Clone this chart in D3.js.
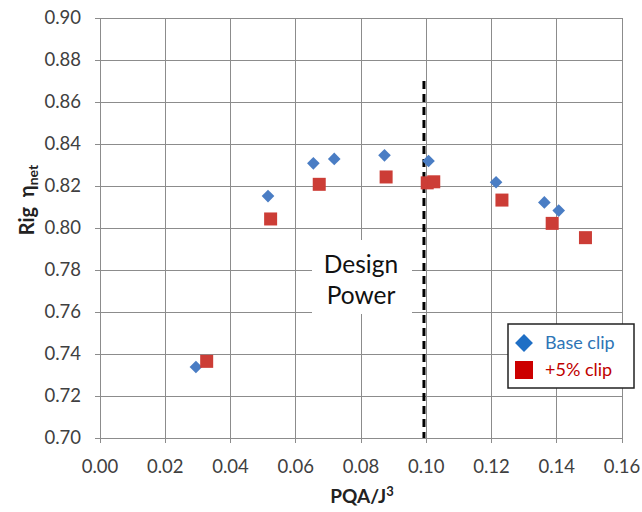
<!DOCTYPE html>
<html><head><meta charset="utf-8">
<script src="https://cdn.jsdelivr.net/npm/d3@7"></script>
<style>body{margin:0;background:#fff}svg{display:block}text{font-family:Lato,"Open Sans",sans-serif}</style>
</head><body><svg id="c" width="642" height="512"></svg>
<script>
const xTicks = [0,0.02,0.04,0.06,0.08,0.10,0.12,0.14,0.16];
const yTicks = [0.70,0.72,0.74,0.76,0.78,0.80,0.82,0.84,0.86,0.88,0.90];
const baseX = [0.0294,0.0515,0.0654,0.0718,0.0872,0.1007,0.1214,0.1362,0.1406];
const baseY = [0.7338,0.8152,0.8308,0.8329,0.8346,0.8319,0.8218,0.8122,0.8083];
const clipX = [0.0327,0.0523,0.0672,0.0877,0.1003,0.1023,0.1232,0.1386,0.1488];
const clipY = [0.7365,0.8043,0.8208,0.8243,0.8215,0.8220,0.8133,0.8022,0.7954];
const designX = 0.0993, designTop = 0.870;
const seriesNames = ["Base clip","+5% clip"];

const svg = d3.select("#c");
const x = d3.scaleLinear().domain([0,0.16]).range([100,622]);
const y = d3.scaleLinear().domain([0.70,0.90]).range([438,18]);

const grid = svg.append("g");
grid.selectAll("line.v").data(xTicks).join("line")
  .attr("x1",d=>x(d)).attr("x2",d=>x(d)).attr("y1",y(0.90)).attr("y2",y(0.70)+5)
  .attr("stroke","#8c8c8c").attr("stroke-width",1).attr("shape-rendering","crispEdges");
grid.selectAll("line.h").data(yTicks).join("line")
  .attr("x1",x(0)-5).attr("x2",x(0.16)).attr("y1",d=>y(d)).attr("y2",d=>y(d))
  .attr("stroke","#8c8c8c").attr("stroke-width",1).attr("shape-rendering","crispEdges");

svg.append("g").selectAll("text").data(yTicks).join("text")
  .attr("x",81).attr("y",d=>y(d)).attr("dy","0.35em").attr("text-anchor","end")
  .attr("font-size",18.5).attr("fill","#404040").text(d=>d.toFixed(2));
svg.append("g").selectAll("text").data(xTicks).join("text")
  .attr("x",d=>x(d)).attr("y",467).attr("dy","0.35em").attr("text-anchor","middle")
  .attr("font-size",18.5).attr("fill","#404040").text(d=>d.toFixed(2));

// Design power label with white background
svg.append("rect").attr("x",312).attr("y",240).attr("width",100).attr("height",74).attr("fill","#fff");
svg.append("text").attr("x",361).attr("y",273).attr("text-anchor","middle").attr("font-size",24.5).attr("fill","#111").text("Design");
svg.append("text").attr("x",361).attr("y",304).attr("text-anchor","middle").attr("font-size",24.5).attr("fill","#111").text("Power");

svg.append("line").attr("x1",x(designX)).attr("x2",x(designX)).attr("y1",y(designTop)).attr("y2",y(0.70))
  .attr("stroke","#000").attr("stroke-width",3).attr("stroke-dasharray","8,5");

const diamond = d3.symbol().type(d3.symbolSquare).size(80);
svg.append("g").selectAll("path").data(baseX.map((v,i)=>[v,baseY[i]])).join("path")
  .attr("d",diamond).attr("transform",d=>`translate(${x(d[0])},${y(d[1])}) rotate(45)`)
  .attr("fill","#4a7dc4");
svg.append("g").selectAll("rect").data(clipX.map((v,i)=>[v,clipY[i]])).join("rect")
  .attr("x",d=>x(d[0])-6.5).attr("y",d=>y(d[1])-6.5).attr("width",13).attr("height",13)
  .attr("fill","#cc3d36");

// legend
const lg = svg.append("g");
lg.append("rect").attr("x",508).attr("y",324).attr("width",126).attr("height",64)
  .attr("fill","#fff").attr("stroke","#222").attr("stroke-width",1.5);
lg.append("path").attr("d",d3.symbol().type(d3.symbolSquare).size(160))
  .attr("transform","translate(524,343) rotate(45)").attr("fill","#1f6fc5");
lg.append("rect").attr("x",515).attr("y",361).attr("width",18).attr("height",18).attr("fill","#cc0000");
lg.append("text").attr("x",545).attr("y",343).attr("dy","0.35em").attr("font-size",18).attr("fill","#2e75b6").text(seriesNames[0]);
lg.append("text").attr("x",545).attr("y",370).attr("dy","0.35em").attr("font-size",18).attr("fill","#c00000").text(seriesNames[1]);

// axis titles
svg.append("text").attr("x",362).attr("y",496).attr("dy","0.35em").attr("text-anchor","middle")
  .attr("font-size",19).attr("font-weight","bold").attr("fill","#222")
  .html('PQA/J<tspan font-size="13" dy="-7">3</tspan>');
svg.append("text").attr("transform","translate(34,200) rotate(-90)").attr("text-anchor","middle")
  .attr("font-size",20).attr("font-weight","bold").attr("fill","#222")
  .html('Rig&#160;&#160;η<tspan font-size="14" dy="4">net</tspan>');
</script></body></html>
